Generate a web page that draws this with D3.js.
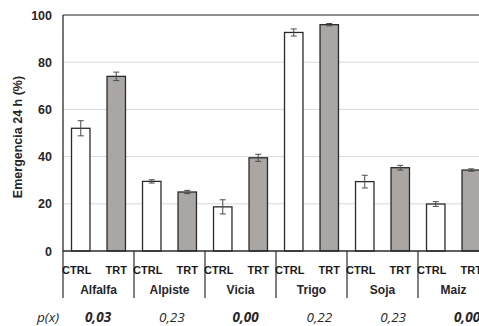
<!DOCTYPE html>
<html>
<head>
<meta charset="utf-8">
<script src="https://cdn.jsdelivr.net/npm/d3@7"></script>
<style>
  body { margin: 0; background: #fff; }
  svg { display: block; }
</style>
</head>
<body>
<div id="chart"></div>
<script>
// datos
const cultivos = ["Alfalfa", "Alpiste", "Vicia", "Trigo", "Soja", "Maiz"];
const tratamientos = ["CTRL", "TRT"];
const ctrl = [52, 29.5, 18.7, 92.6, 29.4, 19.9];
const ctrlErr = [3.2, 0.7, 3.0, 1.5, 2.7, 1.0];
const trt = [74, 25, 39.5, 95.9, 35.3, 34.3];
const trtErr = [1.8, 0.7, 1.5, 0.5, 1.0, 0.5];
const pValores = ["0,03", "0,23", "0,00", "0,22", "0,23", "0,00"];
const pSignif = [true, false, true, false, false, true];
const yTicks = [0, 20, 40, 60, 80, 100];

const W = 479, H = 326;
const m = { left: 63, top: 15, bottom: 251 };
const catW = 71;
const fuente = "Liberation Sans, Arial, sans-serif";

const svg = d3.select("#chart").append("svg")
  .attr("width", W).attr("height", H);

const x0 = d3.scaleBand()
  .domain(cultivos)
  .range([m.left, m.left + catW * cultivos.length]);
const x1 = d3.scaleBand()
  .domain(tratamientos)
  .range([0, x0.bandwidth()]);
const y = d3.scaleLinear().domain([0, 100]).range([m.bottom, m.top]);

// líneas de cuadrícula
svg.append("g")
  .selectAll("line")
  .data(yTicks.filter(t => t > 0 && t < 100))
  .join("line")
  .attr("x1", m.left).attr("x2", W)
  .attr("y1", d => y(d)).attr("y2", d => y(d))
  .attr("stroke", "#d9d9d9").attr("stroke-width", 1);

// borde superior
svg.append("line")
  .attr("x1", m.left).attr("x2", W)
  .attr("y1", y(100)).attr("y2", y(100))
  .attr("stroke", "#6b6b6b").attr("stroke-width", 1.5);

// eje Y
const yAxis = d3.axisLeft(y).tickValues(yTicks).tickSize(0).tickPadding(11);
svg.append("g")
  .attr("transform", `translate(${m.left},0)`)
  .call(yAxis)
  .call(g => g.select(".domain").remove())
  .selectAll("text")
  .attr("font-family", fuente)
  .attr("font-size", 12.5)
  .attr("font-weight", "bold")
  .attr("fill", "#262626");

svg.append("text")
  .attr("transform", `translate(22,${(y(0) + y(100)) / 2 + 4}) rotate(-90)`)
  .attr("text-anchor", "middle")
  .attr("font-family", fuente)
  .attr("font-size", 12.5)
  .attr("font-weight", "bold")
  .attr("fill", "#262626")
  .text("Emergencia 24 h (%)");

// barras
const filas = cultivos.map((c, i) => [
  { cultivo: c, trat: "CTRL", v: ctrl[i], e: ctrlErr[i] },
  { cultivo: c, trat: "TRT", v: trt[i], e: trtErr[i] }
]).flat();

const cx = d => x0(d.cultivo) + x1(d.trat) + x1.bandwidth() / 2;
const bw = x1.bandwidth() * 0.52;

svg.append("g")
  .selectAll("rect")
  .data(filas)
  .join("rect")
  .attr("x", d => cx(d) - bw / 2)
  .attr("y", d => y(d.v))
  .attr("width", bw)
  .attr("height", d => y(0) - y(d.v))
  .attr("fill", d => d.trat === "TRT" ? "#aaa6a3" : "#ffffff")
  .attr("stroke", "#2b2b2b")
  .attr("stroke-width", 1.3);

// barras de error
const err = svg.append("g")
  .attr("stroke", "#4a4a4a").attr("stroke-width", 1);
err.selectAll("line.v")
  .data(filas)
  .join("line").attr("class", "v")
  .attr("x1", cx).attr("x2", cx)
  .attr("y1", d => y(d.v + d.e)).attr("y2", d => y(d.v - d.e));
err.selectAll("line.sup")
  .data(filas)
  .join("line").attr("class", "sup")
  .attr("x1", d => cx(d) - 3).attr("x2", d => cx(d) + 3)
  .attr("y1", d => y(d.v + d.e)).attr("y2", d => y(d.v + d.e));
err.selectAll("line.inf")
  .data(filas)
  .join("line").attr("class", "inf")
  .attr("x1", d => cx(d) - 3).attr("x2", d => cx(d) + 3)
  .attr("y1", d => y(d.v - d.e)).attr("y2", d => y(d.v - d.e));

// ejes
svg.append("line")
  .attr("x1", m.left).attr("x2", W)
  .attr("y1", y(0)).attr("y2", y(0))
  .attr("stroke", "#2b2b2b").attr("stroke-width", 1.3);
svg.append("line")
  .attr("x1", m.left).attr("x2", m.left)
  .attr("y1", y(100)).attr("y2", y(0))
  .attr("stroke", "#2b2b2b").attr("stroke-width", 1.3);

// separadores de categoría
svg.append("g")
  .selectAll("line")
  .data(cultivos)
  .join("line")
  .attr("x1", d => x0(d)).attr("x2", d => x0(d))
  .attr("y1", y(0)).attr("y2", 298)
  .attr("stroke", "#2b2b2b").attr("stroke-width", 1.2);

svg.append("g")
  .selectAll("text")
  .data(filas)
  .join("text")
  .attr("x", d => cx(d) - (d.trat === "CTRL" ? 4 : 0))
  .attr("y", 274)
  .attr("text-anchor", "middle")
  .attr("font-family", fuente)
  .attr("font-size", 11)
  .attr("font-weight", "bold")
  .attr("fill", "#1a1a1a")
  .text(d => d.trat);

svg.append("g")
  .selectAll("text")
  .data(cultivos)
  .join("text")
  .attr("x", d => x0(d) + x0.bandwidth() / 2)
  .attr("y", 294)
  .attr("text-anchor", "middle")
  .attr("font-family", fuente)
  .attr("font-size", 12)
  .attr("font-weight", "bold")
  .attr("fill", "#262626")
  .text(d => d);

// fila de p(x)
const xp = d3.scalePoint().domain(cultivos).range([98, 467]);
const fp = "Open Sans, Noto Sans, sans-serif";
svg.append("text")
  .attr("x", 48).attr("y", 322)
  .attr("text-anchor", "middle")
  .attr("font-family", fp)
  .attr("font-size", 13.5)
  .attr("font-style", "italic")
  .attr("fill", "#262626")
  .text("p(x)");
svg.append("g")
  .selectAll("text")
  .data(pValores)
  .join("text")
  .attr("x", (d, i) => xp(cultivos[i]))
  .attr("y", 322)
  .attr("text-anchor", "middle")
  .attr("font-family", fp)
  .attr("font-size", 13.5)
  .attr("font-style", "italic")
  .attr("font-weight", (d, i) => pSignif[i] ? "bold" : "normal")
  .attr("fill", "#262626")
  .text(d => d);
</script>
</body>
</html>
